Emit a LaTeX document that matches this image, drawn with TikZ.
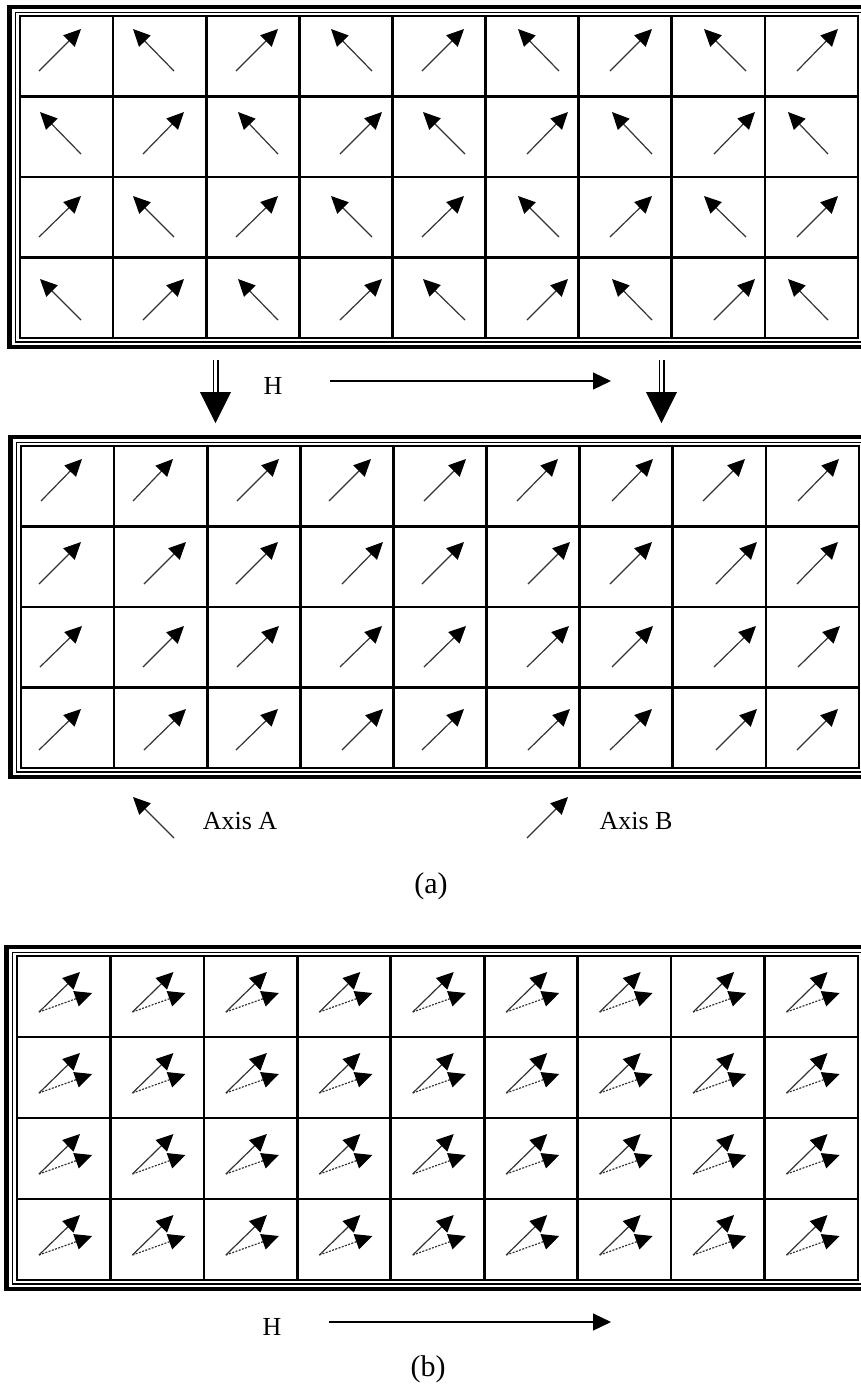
\documentclass[tikz,border=0pt]{standalone}
\usepackage{fontspec}
\setmainfont{Liberation Serif}
\usetikzlibrary{arrows.meta}
\newcommand{\framedgrid}[4]{%
  \draw[thickframe] (#1-10.5,#2-9) rectangle (#3+12,#4+9);
  \draw[thinframe] (#1-4.5,#2-3.5) rectangle (#3+4.5,#4+4);
  \draw[gridline] (#1,#2) rectangle (#3,#4);
  \foreach \i in {1,...,8} \draw[gridline] ({#1+\i*(#3-#1)/9},#2) -- ({#1+\i*(#3-#1)/9},#4);
  \foreach \j in {1,2,3} \draw[gridline] (#1,{#2+\j*(#4-#2)/4}) -- (#3,{#2+\j*(#4-#2)/4});
}
\begin{document}
\begin{tikzpicture}[x=0.5pt,y=-0.5pt,
  spin/.style={line width=0.6pt, draw=black!80, -{Triangle[length=8.5pt,width=8pt,color=black]}},
  spind/.style={spin, dash pattern=on 1pt off 0.7pt},
  gridline/.style={line width=1.3pt},
  thinframe/.style={line width=0.65pt},
  thickframe/.style={line width=2.4pt},
  lbl/.style={font=\fontsize{13}{15}\selectfont, inner sep=0pt},
  capt/.style={font=\fontsize{15}{17}\selectfont, inner sep=0pt},
  harrow/.style={line width=0.6pt, -{Triangle[length=9pt,width=8.5pt]}},
  dstem/.style={double, double distance=1.2pt, line width=0.9pt},
  bighead/.style={fill=black}
]
\useasboundingbox (0,0) rectangle (861,1389);

% ---------- grid 1 ----------
\framedgrid{20}{16}{858}{338}
\foreach \ya/\yb in {29/71, 196/237}{
  \foreach \xa/\xb/\d in {39/81/0, 133/174/1, 236/278/0, 331/372/1, 422/464/0, 518/559/1, 610/652/0, 704/746/1, 797/838/0}{
    \ifnum\d=0 \draw[spin] (\xa,\yb) -- (\xb,\ya); \else \draw[spin] (\xb,\yb) -- (\xa,\ya); \fi
  }
}
\foreach \ya/\yb in {112/154, 279/320}{
  \foreach \xa/\xb/\d in {40/81/1, 143/184/0, 238/278/1, 340/382/0, 423/465/1, 527/568/0, 612/652/1, 714/755/0, 788/828/1}{
    \ifnum\d=0 \draw[spin] (\xa,\yb) -- (\xb,\ya); \else \draw[spin] (\xb,\yb) -- (\xa,\ya); \fi
  }
}

% ---------- transition ----------
\coordinate (d1a) at (215.5,360); \coordinate (d1b) at (215.5,393); \coordinate (d1t) at (215.5,423);
\draw[dstem] (d1a) -- (d1b);
\fill[bighead] (d1t) -- (200,392) -- (231,392) -- cycle;
\coordinate (d2a) at (661.5,360); \coordinate (d2b) at (661.5,393); \coordinate (d2t) at (661.5,423);
\draw[dstem] (d2a) -- (d2b);
\fill[bighead] (d2t) -- (646,392) -- (677,392) -- cycle;
\node[lbl] (H1) at (273,386) {H};
\coordinate (h1s) at (330,381); \coordinate (h1e) at (611,381);
\draw[harrow] (h1s) -- (h1e);

% ---------- grid 2 ----------
\framedgrid{21}{446}{859}{768}
\foreach \xa/\xb in {41/82, 133/173, 237/279, 329/371, 424/466, 517/558, 612/653, 703/745, 798/839}
  \draw[spin] (\xa,501) -- (\xb,459);
\foreach \xa/\xb in {39/81, 144/186, 236/278, 342/383, 422/464, 528/570, 610/652, 716/757, 797/838}
  \draw[spin] (\xa,584) -- (\xb,542);
\foreach \xa/\xb in {40/82, 143/184, 237/279, 340/382, 424/466, 527/569, 612/653, 714/756, 798/840}
  \draw[spin] (\xa,667) -- (\xb,626);
\foreach \xa/\xb in {39/81, 144/186, 236/278, 342/383, 422/464, 528/570, 610/652, 716/757, 797/838}
  \draw[spin] (\xa,750) -- (\xb,709);

% ---------- axes ----------
\coordinate (aAt) at (174,838); \coordinate (aAh) at (133,797);
\draw[spin] (aAt) -- (aAh);
\node[lbl] (axA) at (240,821) {Axis A};
\coordinate (aBt) at (527,838); \coordinate (aBh) at (568,797);
\draw[spin] (aBt) -- (aBh);
\node[lbl] (axB) at (636,821) {Axis B};
\node[capt] (capa) at (431,886) {(a)};

% ---------- grid 3 ----------
\framedgrid{17}{956}{858}{1280}
\foreach \c in {0,...,8}{
  \foreach \r in {0,...,3}{
    \coordinate (t) at ({17+\c*93.44+22},{956+\r*81+56});
    \draw[spin] (t) -- ++(41,-40);
    \draw[spind] (t) -- ++(53,-19);
  }
}

% ---------- bottom ----------
\node[lbl] (H2) at (272,1327) {H};
\coordinate (h2s) at (329,1322); \coordinate (h2e) at (611,1322);
\draw[harrow] (h2s) -- (h2e);
\node[capt] (capb) at (428,1369) {(b)};
\end{tikzpicture}
\end{document}
